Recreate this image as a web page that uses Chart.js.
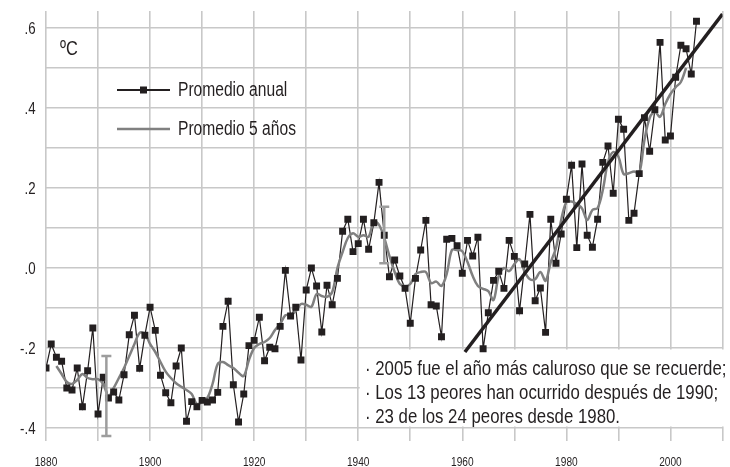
<!DOCTYPE html>
<html>
<head>
<meta charset="utf-8">
<script src="https://cdn.jsdelivr.net/npm/chart.js@4.4.0/dist/chart.umd.min.js"></script>
<style>
    html, body { margin: 0; padding: 0; background: #fff; }
    #wrap { width: 730px; height: 467px; position: relative; }
</style>
</head>
<body>
<div id="wrap"><canvas id="tempChart"></canvas></div>
<script>
// Años y anomalía anual (°C)
const years = [
    1880, 1881, 1882, 1883, 1884, 1885, 1886, 1887, 1888, 1889,
    1890, 1891, 1892, 1893, 1894, 1895, 1896, 1897, 1898, 1899,
    1900, 1901, 1902, 1903, 1904, 1905, 1906, 1907, 1908, 1909,
    1910, 1911, 1912, 1913, 1914, 1915, 1916, 1917, 1918, 1919,
    1920, 1921, 1922, 1923, 1924, 1925, 1926, 1927, 1928, 1929,
    1930, 1931, 1932, 1933, 1934, 1935, 1936, 1937, 1938, 1939,
    1940, 1941, 1942, 1943, 1944, 1945, 1946, 1947, 1948, 1949,
    1950, 1951, 1952, 1953, 1954, 1955, 1956, 1957, 1958, 1959,
    1960, 1961, 1962, 1963, 1964, 1965, 1966, 1967, 1968, 1969,
    1970, 1971, 1972, 1973, 1974, 1975, 1976, 1977, 1978, 1979,
    1980, 1981, 1982, 1983, 1984, 1985, 1986, 1987, 1988, 1989,
    1990, 1991, 1992, 1993, 1994, 1995, 1996, 1997, 1998, 1999,
    2000, 2001, 2002, 2003, 2004, 2005
];

const annual = [
    -0.25, -0.19, -0.223, -0.233, -0.30, -0.305, -0.25, -0.347, -0.257, -0.15,
    -0.365, -0.273, -0.325, -0.31, -0.33, -0.267, -0.167, -0.118, -0.251, -0.168,
    -0.098, -0.156, -0.268, -0.312, -0.337, -0.245, -0.20, -0.383, -0.334, -0.347,
    -0.331, -0.335, -0.33, -0.311, -0.146, -0.083, -0.292, -0.385, -0.315, -0.194,
    -0.181, -0.123, -0.232, -0.198, -0.202, -0.146, -0.006, -0.12, -0.098, -0.23,
    -0.055, 0.0, -0.045, -0.16, -0.043, -0.092, -0.026, 0.092, 0.122, 0.041,
    0.061, 0.122, 0.047, 0.113, 0.214, 0.082, -0.022, 0.02, -0.02, -0.051,
    -0.138, -0.026, 0.045, 0.119, -0.092, -0.095, -0.172, 0.072, 0.074, 0.056,
    -0.013, 0.069, 0.03, 0.077, -0.202, -0.112, -0.031, -0.008, -0.051, 0.069,
    0.029, -0.107, 0.01, 0.134, -0.082, -0.05, -0.161, 0.122, 0.012, 0.085,
    0.172, 0.257, 0.051, 0.26, 0.082, 0.052, 0.122, 0.264, 0.305, 0.187,
    0.372, 0.347, 0.119, 0.137, 0.236, 0.376, 0.292, 0.396, 0.564, 0.32,
    0.33, 0.477, 0.557, 0.548, 0.485, 0.617
];

// Promedio de 5 años: 1882 - 2003
const fiveYears = years.slice(2, 124);
const fiveYearMean = [
    -0.245, -0.265, -0.285, -0.29, -0.28, -0.265, -0.275, -0.278,
    -0.278, -0.29, -0.32, -0.30, -0.275, -0.25, -0.22, -0.19, -0.162, -0.165,
    -0.19, -0.21, -0.235, -0.259, -0.275, -0.288, -0.297, -0.305, -0.315, -0.34,
    -0.335, -0.325, -0.29, -0.24, -0.235, -0.243, -0.25, -0.262, -0.27, -0.23,
    -0.20, -0.19, -0.185, -0.175, -0.155, -0.14, -0.118, -0.118, -0.108, -0.09,
    -0.092, -0.097, -0.065, -0.07, -0.072, -0.06, 0.0, 0.04, 0.075, 0.087,
    0.078, 0.082, 0.078, 0.116, 0.108, 0.075, 0.03, -0.01, -0.04, -0.045,
    -0.04, -0.015, -0.01, -0.01, -0.038, -0.034, -0.045, -0.015, 0.045, 0.045,
    0.042, 0.015, -0.02, -0.045, -0.052, -0.058, -0.08, -0.02, 0.0, -0.008,
    0.01, 0.022, -0.01, -0.028, -0.028, -0.01, -0.032, 0.015, 0.05, 0.12,
    0.165, 0.166, 0.16, 0.149, 0.12, 0.145, 0.15, 0.195, 0.265, 0.29,
    0.278, 0.235, 0.237, 0.241, 0.237, 0.32, 0.375, 0.39, 0.378, 0.41,
    0.435, 0.452, 0.465, 0.50
];

// Tendencia desde 1960
const trendYears = [1960.5, 2010];
const trendValues = [-0.21, 0.635];

// Barras de error
const errYears = [1891.6, 1945];
const errLow = [-0.42, 0.012];
const errHigh = [-0.22, 0.153];

const notes = [
    '· 2005 fue el año más caluroso que se recuerde;',
    '· Los 13 peores han ocurrido después de 1990;',
    '· 23 de los 24 peores desde 1980.'
];

const FONT = "'Liberation Sans', Arial, sans-serif";
const NARROW = 0.78;   // letra condensada
const INK = '#231f20';
const GRAY = '#808080';
const ERR = '#9d9d9d';

const toPoints = (xs, ys) => xs.map((x, i) => ({ x: x, y: ys[i] }));

/**
 * Texto comprimido horizontalmente
 */
function narrowText(ctx, text, x, y, size, align, squeeze) {
    ctx.save();
    ctx.font = size + 'px ' + FONT;
    ctx.fillStyle = INK;
    ctx.textAlign = align || 'left';
    ctx.textBaseline = 'middle';
    ctx.translate(x, y);
    ctx.scale(squeeze || NARROW, 1);
    ctx.fillText(text, 0, 0);
    ctx.restore();
}

function yLabel(v) {
    const t = Math.round(v * 10);
    const s = Math.abs(t / 10).toFixed(1).replace(/^0/, '');
    return (t < 0 ? '-' : '') + s;
}

/**
 * Texto, leyenda, ejes y recuadro de notas
 */
const overlay = {
    id: 'overlay',
    beforeDatasetsDraw(chart) {
        const { ctx, chartArea, scales } = chart;
        const left = scales.x.getPixelForValue(1940) + 1.5;
        const top = scales.y.getPixelForValue(-0.2) + 1.5;
        const bottom = scales.y.getPixelForValue(-0.4) - 1.5;
        ctx.save();
        ctx.fillStyle = '#fff';
        ctx.fillRect(left, top, chartArea.right - left + 2, bottom - top);
        ctx.restore();
    },
    afterDatasetsDraw(chart) {
        const { ctx, scales } = chart;

        // etiquetas de los ejes
        scales.y.ticks.forEach(t => {
            if (Math.round(t.value * 10) % 2 !== 0) return;
            narrowText(ctx, yLabel(t.value), 35.5, scales.y.getPixelForValue(t.value) + 1.5, 17, 'right');
        });
        scales.x.ticks.forEach(t => {
            if (t.value % 20 !== 0) return;
            narrowText(ctx, String(t.value), scales.x.getPixelForValue(t.value), 462, 13, 'center');
        });

        narrowText(ctx, 'ºC', 60, 49, 21);

        // leyenda
        ctx.save();
        ctx.strokeStyle = INK;
        ctx.lineWidth = 2;
        ctx.beginPath();
        ctx.moveTo(117, 90);
        ctx.lineTo(170, 90);
        ctx.stroke();
        ctx.fillStyle = INK;
        ctx.fillRect(140, 86.5, 7, 7);

        ctx.strokeStyle = GRAY;
        ctx.lineWidth = 2.5;
        ctx.beginPath();
        ctx.moveTo(117, 129);
        ctx.lineTo(170, 129);
        ctx.stroke();
        ctx.restore();

        narrowText(ctx, 'Promedio anual', 178, 90, 20);
        narrowText(ctx, 'Promedio 5 años', 178, 129, 20);

        // notas
        notes.forEach((line, i) => {
            narrowText(ctx, line, 365, 369 + i * 24, 21, 'left', 0.8);
        });
    }
};

function errorBar(i) {
    return {
        data: toPoints([errYears[i], errYears[i]], [errHigh[i], errLow[i]]),
        borderColor: ERR,
        borderWidth: 2.5,
        pointStyle: 'line',
        pointRadius: 5,
        pointBorderColor: ERR,
        pointBorderWidth: 2.5,
        order: 0
    };
}

new Chart(document.getElementById('tempChart'), {
    type: 'line',
    data: {
        datasets: [
            errorBar(0),
            errorBar(1),
            {
                data: toPoints(trendYears, trendValues),
                borderColor: INK,
                borderWidth: 3.5,
                pointRadius: 0,
                order: 1
            },
            {
                // marcadores anuales
                data: toPoints(years, annual),
                showLine: false,
                pointStyle: 'rect',
                pointRadius: 4.9,
                pointBackgroundColor: INK,
                pointBorderWidth: 0,
                order: 2
            },
            {
                data: toPoints(fiveYears, fiveYearMean),
                borderColor: GRAY,
                borderWidth: 2.5,
                tension: 0.35,
                pointRadius: 0,
                order: 3
            },
            {
                data: toPoints(years, annual),
                borderColor: INK,
                borderWidth: 1.2,
                pointRadius: 0,
                order: 4
            }
        ]
    },
    options: {
        responsive: true,
        maintainAspectRatio: false,
        animation: false,
        devicePixelRatio: 1,
        layout: { padding: { top: 11, right: 1, left: 0, bottom: 0 } },
        plugins: {
            legend: { display: false },
            tooltip: { enabled: false }
        },
        scales: {
            x: {
                type: 'linear',
                min: 1880,
                max: 2010,
                afterFit: s => { s.height = 26; },
                border: { display: false },
                grid: { color: '#c8c8c8', lineWidth: 1.6, drawTicks: false },
                ticks: { stepSize: 10, display: false, autoSkip: false }
            },
            y: {
                min: -0.4325,
                max: 0.6425,
                afterFit: s => { s.width = 46; },
                border: { display: false },
                grid: { color: '#c8c8c8', lineWidth: 1.6, drawTicks: false },
                ticks: { stepSize: 0.1, includeBounds: false, display: false }
            }
        }
    },
    plugins: [overlay]
});
</script>
</body>
</html>
